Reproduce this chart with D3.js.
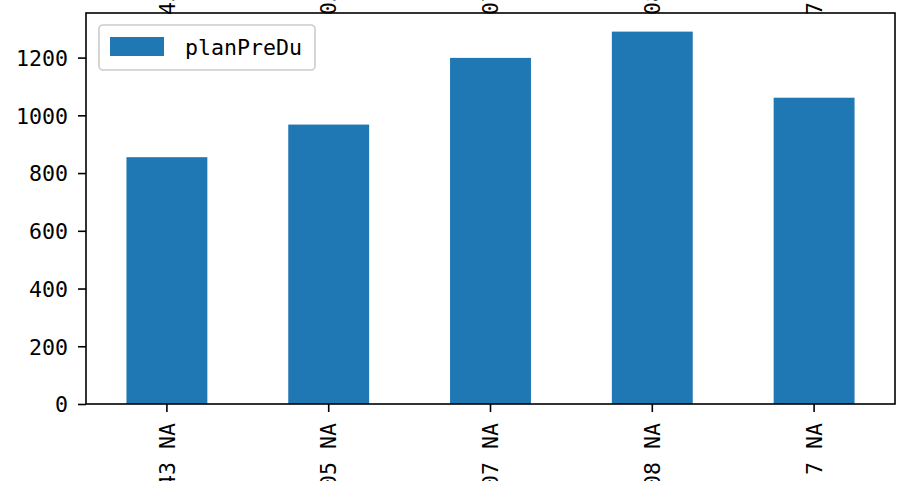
<!DOCTYPE html>
<html>
<head>
<meta charset="utf-8">
<script src="https://cdn.jsdelivr.net/npm/d3@7"></script>
<style>
  html, body { margin: 0; padding: 0; background: #fff; overflow: hidden; }
  svg { display: block; }
  text { white-space: pre; }
</style>
</head>
<body>
<script>
// ---- data ----
const categories = ["43 NA", "05 NA", "07 NA", "08 NA", "7 NA"];
const topLabels = ["43", "05", "07", "08", "7"];
const seriesName = "planPreDu";
const values = [855, 968, 1199, 1290, 1061];
const yTicks = [0, 200, 400, 600, 800, 1000, 1200];

// ---- layout ----
const W = 897, H = 481;
const mLeft = 86, mRight = 895, mTop = 13, mBottom = 404;
const font = "'DejaVu Sans Mono', 'Liberation Mono', monospace";
const fs = 21.6;
const color = "#1f77b4";

const svg = d3.select("body").append("svg").attr("width", W).attr("height", H);

const x = d3.scaleBand().domain(categories).range([mLeft, mRight]).paddingInner(0.5).paddingOuter(0.25);
const y = d3.scaleLinear().domain([0, d3.max(values) * 1.05]).range([mBottom, mTop]);

// bars
svg.append("g").selectAll("rect").data(values).join("rect")
  .attr("x", (d, i) => x(categories[i]))
  .attr("width", x.bandwidth())
  .attr("y", d => y(d))
  .attr("height", d => y(0) - y(d))
  .attr("fill", color);

// y axis
const yAxis = svg.append("g").attr("transform", `translate(${mLeft},0)`)
  .call(d3.axisLeft(y).tickValues(yTicks).tickFormat(d3.format("d")).tickSize(8).tickPadding(10));
yAxis.select(".domain").remove();
yAxis.selectAll("line").attr("stroke", "#000").attr("stroke-width", 1.6);
yAxis.selectAll("text").attr("font-family", font).attr("font-size", fs).attr("fill", "#000").attr("dy", "0.36em");

// x axis
const xAxis = svg.append("g").attr("transform", `translate(0,${mBottom})`)
  .call(d3.axisBottom(x).tickSize(8).tickPadding(6));
xAxis.select(".domain").remove();
xAxis.selectAll("line").attr("stroke", "#000").attr("stroke-width", 1.6);
xAxis.selectAll("text")
  .attr("font-family", font).attr("font-size", fs).attr("fill", "#000")
  .attr("text-anchor", "end")
  .attr("transform", "rotate(-90)")
  .attr("x", -19).attr("y", 0).attr("dy", "0.36em");

// top fragments of long rotated labels
svg.append("g").selectAll("text").data(topLabels).join("text")
  .attr("transform", (d, i) => `translate(${x(categories[i]) + x.bandwidth() / 2},15) rotate(-90)`)
  .attr("text-anchor", "start")
  .attr("dy", "0.36em")
  .attr("font-family", font).attr("font-size", fs).attr("fill", "#000")
  .text(d => d);

// spines
svg.append("rect")
  .attr("x", mLeft).attr("y", mTop)
  .attr("width", mRight - mLeft).attr("height", mBottom - mTop)
  .attr("fill", "none").attr("stroke", "#000").attr("stroke-width", 1.6);

// legend
const lg = svg.append("g");
lg.append("rect")
  .attr("x", 99).attr("y", 25).attr("width", 216).attr("height", 45)
  .attr("rx", 4).attr("fill", "#fff").attr("fill-opacity", 0.8)
  .attr("stroke", "#cccccc").attr("stroke-width", 1.6);
lg.append("rect")
  .attr("x", 110).attr("y", 37).attr("width", 54).attr("height", 19)
  .attr("fill", color);
lg.append("text")
  .attr("x", 185).attr("y", 47).attr("dy", "0.36em")
  .attr("font-family", font).attr("font-size", fs).attr("fill", "#000")
  .text(seriesName);
</script>
</body>
</html>
